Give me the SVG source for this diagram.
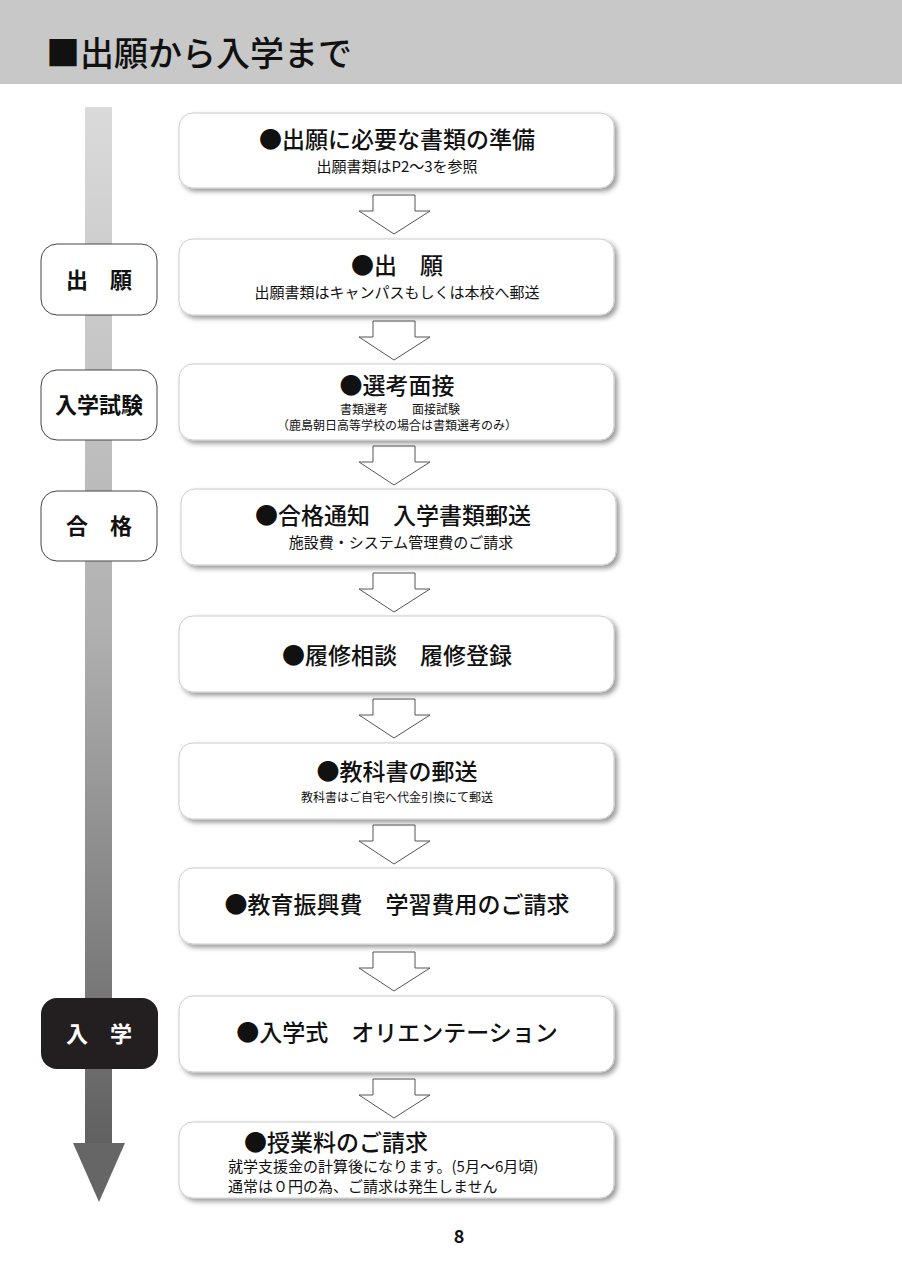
<svg xmlns="http://www.w3.org/2000/svg" width="902" height="1280" viewBox="0 0 902 1280">
<style>
text{font-family:"Noto Sans CJK JP","Liberation Sans",sans-serif;fill:#111}
.box{fill:#fff;stroke:#ccc;stroke-width:1;filter:url(#sh)}
.t{font-size:23px;text-anchor:middle;font-weight:500}
.s{font-size:15px;text-anchor:middle}
.xs{font-size:12px;text-anchor:middle}
.lab{fill:#fff;stroke:#444;stroke-width:1}
.lt{font-size:22px;text-anchor:middle;font-weight:bold}
.arr{fill:#fff;stroke:#555;stroke-width:1}
</style>
<defs>
<linearGradient id="g" x1="0" y1="0" x2="0" y2="1"><stop offset="0" stop-color="#dadada"/><stop offset="0.5" stop-color="#b0b0b0"/><stop offset="1" stop-color="#606060"/></linearGradient>
<filter id="sh" x="-5%" y="-10%" width="112%" height="130%"><feDropShadow dx="3" dy="3" stdDeviation="2.5" flood-color="#000" flood-opacity="0.4"/></filter>
</defs>
<rect x="0" y="0" width="902" height="84" fill="#c8c8c8"/>
<text x="46" y="66" style="font-size:34px;font-weight:500">■出願から入学まで</text>
<g id="timeline">
<rect x="85" y="107" width="27" height="1040" fill="url(#g)"/>
<polygon points="73,1143 125,1143 99,1202" fill="#666"/>
</g>
<g id="connectors">
<polygon class="arr" points="373,195 415,195 415,211 430,211 394,234 359,211 373,211"/>
<polygon class="arr" points="373,321 415,321 415,337 430,337 394,360 359,337 373,337"/>
<polygon class="arr" points="373,446 415,446 415,462 430,462 394,485 359,462 373,462"/>
<polygon class="arr" points="373,573 415,573 415,589 430,589 394,612 359,589 373,589"/>
<polygon class="arr" points="373,699 415,699 415,715 430,715 394,738 359,715 373,715"/>
<polygon class="arr" points="373,825 415,825 415,841 430,841 394,864 359,841 373,841"/>
<polygon class="arr" points="373,952 415,952 415,968 430,968 394,991 359,968 373,968"/>
<polygon class="arr" points="373,1079 415,1079 415,1095 430,1095 394,1118 359,1095 373,1095"/>
</g>
<g id="label1"><rect class="lab" x="41" y="244" width="116" height="71" rx="16"/><text class="lt" x="99" y="288">出　願</text></g>
<g id="label2"><rect class="lab" x="41" y="370" width="116" height="70" rx="16"/><text class="lt" x="99" y="413">入学試験</text></g>
<g id="label3"><rect class="lab" x="41" y="491" width="116" height="70" rx="16"/><text class="lt" x="99" y="534">合　格</text></g>
<g id="label4"><rect x="41" y="998" width="117" height="71" rx="16" fill="#231f20"/><text class="lt" x="99" y="1042" style="fill:#fff">入　学</text></g>
<g id="n1"><rect class="box" x="179" y="113" width="435" height="75" rx="14"/><text class="t" x="397" y="148">●出願に必要な書類の準備</text><text class="s" x="397" y="172">出願書類はP2～3を参照</text></g>
<g id="n2"><rect class="box" x="179" y="239" width="435" height="76" rx="14"/><text class="t" x="397" y="274">●出　願</text><text class="s" x="397" y="298">出願書類はキャンパスもしくは本校へ郵送</text></g>
<g id="n3"><rect class="box" x="179" y="364" width="435" height="76" rx="14"/><text class="t" x="397" y="394">●選考面接</text><text class="xs" x="400" y="414">書類選考　　面接試験</text><text class="xs" x="397" y="430">（鹿島朝日高等学校の場合は書類選考のみ）</text></g>
<g id="n4"><rect class="box" x="181" y="489" width="435" height="76" rx="14"/><text class="t" x="393" y="524">●合格通知　入学書類郵送</text><text class="s" x="401" y="548">施設費・システム管理費のご請求</text></g>
<g id="n5"><rect class="box" x="179" y="616" width="435" height="76" rx="14"/><text class="t" x="397" y="664">●履修相談　履修登録</text></g>
<g id="n6"><rect class="box" x="179" y="743" width="435" height="76" rx="14"/><text class="t" x="397" y="780">●教科書の郵送</text><text class="xs" x="397" y="802">教科書はご自宅へ代金引換にて郵送</text></g>
<g id="n7"><rect class="box" x="179" y="868" width="435" height="76" rx="14"/><text class="t" x="397" y="913">●教育振興費　学習費用のご請求</text></g>
<g id="n8"><rect class="box" x="179" y="996" width="435" height="76" rx="14"/><text class="t" x="397" y="1041">●入学式　オリエンテーション</text></g>
<g id="n9"><rect class="box" x="179" y="1122" width="435" height="76" rx="14"/><text x="244" y="1151" style="font-size:23px;font-weight:500">●授業料のご請求</text><text x="228" y="1172" style="font-size:15px">就学支援金の計算後になります。(5月～6月頃)</text><text x="228" y="1192" style="font-size:15px">通常は０円の為、ご請求は発生しません</text></g>
<text x="459" y="1243" style="font-size:18px;font-weight:bold;text-anchor:middle">8</text>
</svg>
